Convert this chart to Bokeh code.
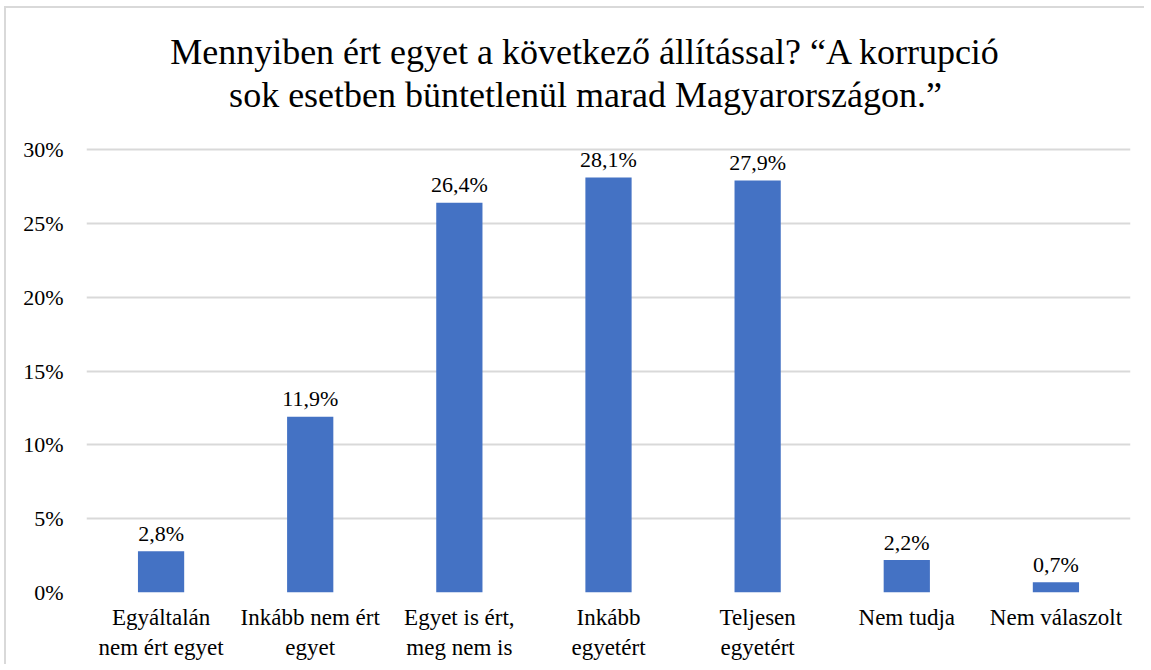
from bokeh.plotting import figure
from bokeh.models import ColumnDataSource, Label, FixedTicker, Range1d
from bokeh.core.properties import value
from bokeh.embed import file_html
from bokeh.resources import INLINE

categories = ["Egyáltalán\nnem ért egyet", "Inkább nem ért\negyet", "Egyet is ért,\nmeg nem is",
              "Inkább\negyetért", "Teljesen\negyetért", "Nem tudja", "Nem válaszolt"]
values = [2.8, 11.9, 26.4, 28.1, 27.9, 2.2, 0.7]
value_labels = ["2,8%", "11,9%", "26,4%", "28,1%", "27,9%", "2,2%", "0,7%"]
y_ticks = [0, 5, 10, 15, 20, 25, 30]
y_tick_labels = ["0%", "5%", "10%", "15%", "20%", "25%", "30%"]
title_lines = ["Mennyiben ért egyet a következő állítással? “A korrupció",
               "sok esetben büntetlenül marad Magyarországon.”"]

FONT = "Liberation Serif"
BLUE = "#4472C4"
GRID = "#d9d9d9"

# layout: frame spans the whole height above the x-axis; the 0..30 scale occupies
# the lower part, the title sits in the upper part of the frame.
W, H = 1140, 658
BORDER_L, BORDER_R, BORDER_B = 80, 16, 74
TOP_GAP = 141  # canvas px from top to the 30% gridline
frame_h = H - BORDER_B
y_top = max(y_ticks) * frame_h / (frame_h - TOP_GAP)

src = ColumnDataSource(dict(cat=categories, val=values, lab=value_labels))

p = figure(x_range=categories, y_range=Range1d(0, y_top), width=W, height=H,
           output_backend="svg", toolbar_location=None,
           min_border_left=BORDER_L, min_border_right=BORDER_R, min_border_bottom=BORDER_B,
           min_border_top=0)
p.title = None
p.outline_line_color = None
p.styles = {"border-top": "2px solid #d9d9d9", "border-left": "2px solid #d9d9d9",
            "margin-top": "6px", "margin-left": "4px"}

title_x = 499
for txt, ty in zip(title_lines, [frame_h - 43, frame_h - 86]):
    p.add_layout(Label(x=title_x, y=ty, x_units="screen", y_units="screen", text=txt,
                       text_align="center", text_baseline="alphabetic", text_font=FONT,
                       text_font_size="36px", text_color="#000000"))

p.vbar(x="cat", top="val", width=0.31, source=src, fill_color=BLUE, line_color=None)
p.text(x="cat", y="val", text="lab", source=src, text_align="center", text_baseline="alphabetic",
       y_offset=-18, text_font=value(FONT), text_font_size="22px", text_color="#000000")

p.yaxis.ticker = FixedTicker(ticks=y_ticks)
p.yaxis.major_label_overrides = {t_: l for t_, l in zip(y_ticks, y_tick_labels)}
p.yaxis.major_label_text_font = FONT
p.yaxis.major_label_text_font_size = "22px"
p.yaxis.major_label_text_color = "#000000"
p.yaxis.axis_line_color = None
p.yaxis.major_tick_line_color = None
p.yaxis.minor_tick_line_color = None
p.yaxis.major_tick_out = 0
p.yaxis.major_label_standoff = 23

p.xaxis.major_label_text_font = FONT
p.xaxis.major_label_text_font_size = "23px"
p.xaxis.major_label_text_color = "#000000"
p.xaxis.axis_line_color = None
p.xaxis.major_tick_line_color = None
p.xaxis.major_tick_out = 0
p.xaxis.major_label_standoff = 12

p.xgrid.grid_line_color = None
p.ygrid.ticker = FixedTicker(ticks=y_ticks)
p.ygrid.grid_line_color = GRID
p.ygrid.grid_line_width = 2

open("out.html", "w").write(file_html(p, INLINE))
